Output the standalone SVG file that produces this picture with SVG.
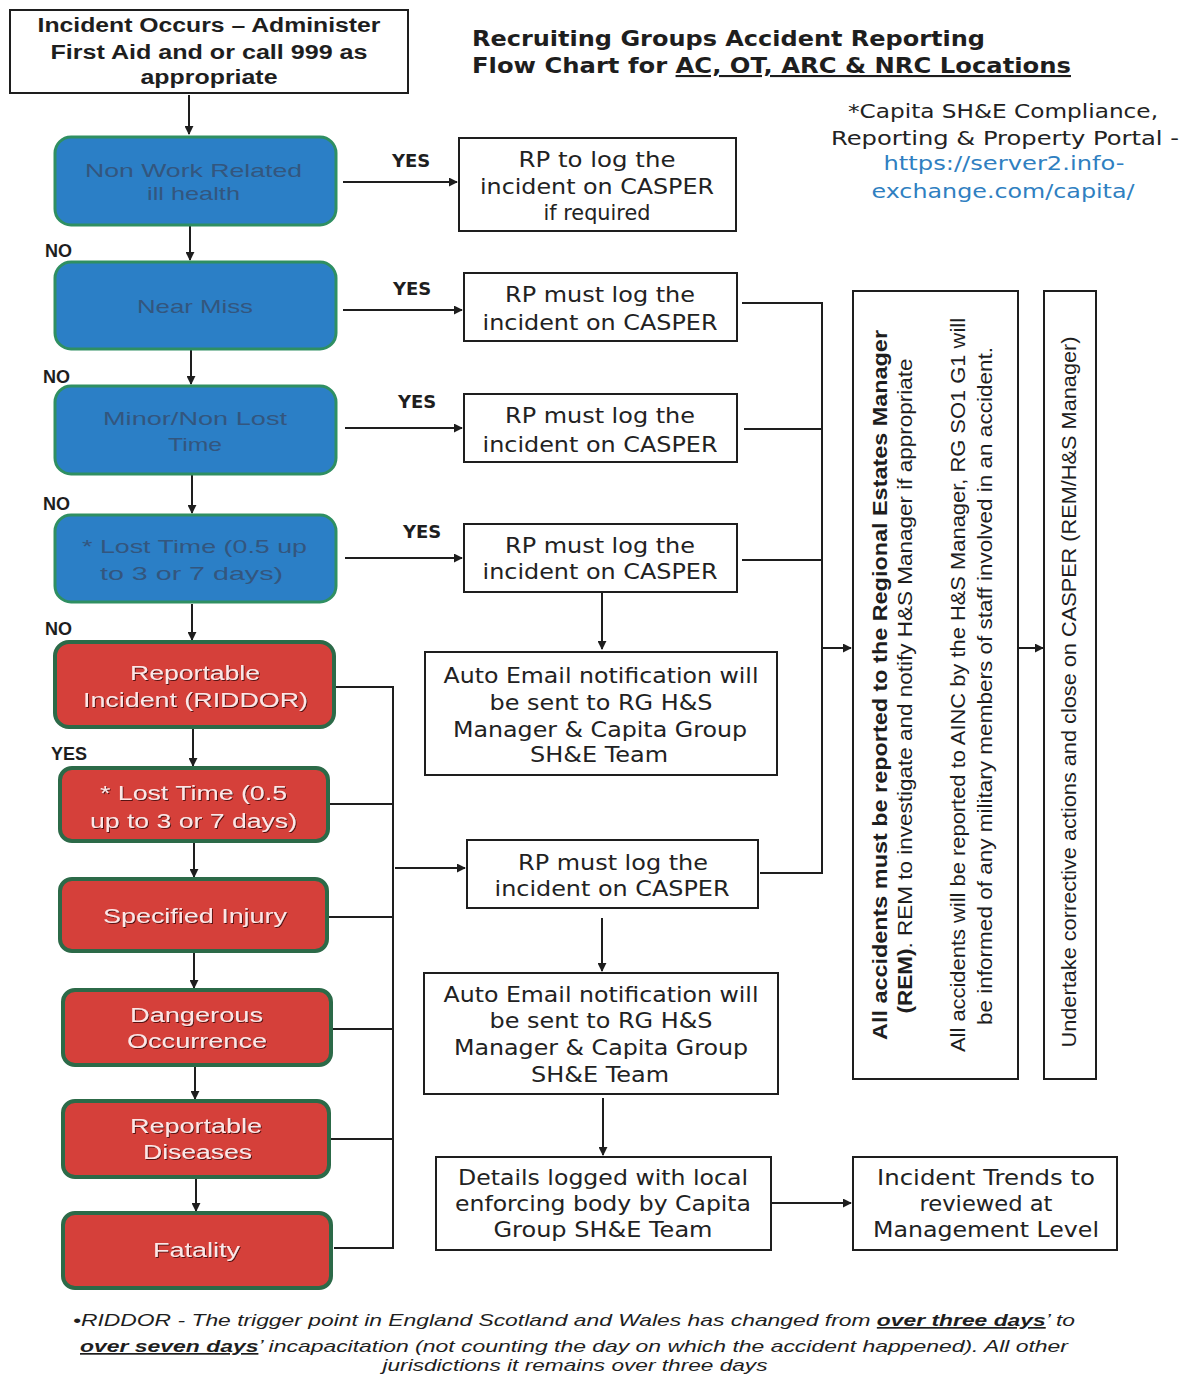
<svg xmlns="http://www.w3.org/2000/svg" width="1184" height="1375" viewBox="0 0 1184 1375">
<defs>
<marker id="ah" viewBox="0 0 10 10" refX="9" refY="5" markerWidth="9" markerHeight="9" markerUnits="userSpaceOnUse" orient="auto">
<path d="M0,0 L10,5 L0,10 z" fill="#1e1e1e"/>
</marker>
<filter id="sh" x="-10%" y="-30%" width="120%" height="160%">
<feDropShadow dx="1" dy="1" stdDeviation="0.6" flood-color="#4a0a0a" flood-opacity="0.9"/>
</filter>
</defs>
<style>
.box{fill:#ffffff;stroke:#1e1e1e;stroke-width:2}
.blue{fill:#2b7fc6;stroke:#2f8f62;stroke-width:3}
.red{fill:#d5403a;stroke:#2c6a48;stroke-width:4}
.bt{font-family:"Liberation Sans",Arial,sans-serif;font-size:19px;fill:#33567e;text-anchor:middle}
.rt{font-family:"Liberation Sans",Arial,sans-serif;font-size:20px;fill:#fde6e6;text-anchor:middle;filter:url(#sh)}
.tt{font-family:"Liberation Sans",Arial,sans-serif;font-size:20px;font-weight:bold;fill:#1e1e1e;text-anchor:middle}
.ct{font-family:"DejaVu Sans",Verdana,sans-serif;font-size:21px;fill:#222;text-anchor:middle}
.lab{font-family:"Liberation Sans",Arial,sans-serif;font-size:18px;font-weight:bold;fill:#1e1e1e}
.yes{font-family:"DejaVu Sans",Verdana,sans-serif;font-size:18px;font-weight:bold;fill:#1e1e1e}
.vt{font-family:"Liberation Sans Narrow","Liberation Sans",Arial,sans-serif;font-size:21px;fill:#1e1e1e;text-anchor:middle}
.title{font-family:"DejaVu Sans",Verdana,sans-serif;font-size:21px;font-weight:bold;fill:#1e1e1e}
.cap{font-family:"DejaVu Sans",Verdana,sans-serif;font-size:19px;fill:#222;text-anchor:middle}
.foot{font-family:"Liberation Sans",Arial,sans-serif;font-size:17px;font-style:italic;fill:#1e1e1e}
.ln{fill:none;stroke:#1e1e1e;stroke-width:2}
</style>
<rect width="1184" height="1375" fill="#ffffff"/>

<!-- title and notes -->
<g id="title">
<text class="title" x="472" y="46" textLength="513" lengthAdjust="spacingAndGlyphs">Recruiting Groups Accident Reporting</text>
<text class="title" x="472" y="73" textLength="599" lengthAdjust="spacingAndGlyphs">Flow Chart for <tspan text-decoration="underline">AC, OT, ARC &amp; NRC Locations</tspan></text>
</g>
<g id="portal-note">
<text class="cap" x="1003" y="118" textLength="310" lengthAdjust="spacingAndGlyphs">*Capita SH&amp;E Compliance,</text>
<text class="cap" x="1005" y="145" textLength="348" lengthAdjust="spacingAndGlyphs">Reporting &amp; Property Portal -</text>
<text class="cap" x="1004" y="170" textLength="241" lengthAdjust="spacingAndGlyphs" fill="#2f7fc1" style="fill:#2f7fc1">https://server2.info-</text>
<text class="cap" x="1003" y="198" textLength="263" lengthAdjust="spacingAndGlyphs" style="fill:#2f7fc1">exchange.com/capita/</text>
</g>

<!-- connectors -->
<g id="connectors">
<line class="ln" x1="189" y1="95" x2="189" y2="134" marker-end="url(#ah)"/>
<line class="ln" x1="190" y1="226" x2="190" y2="260" marker-end="url(#ah)"/>
<line class="ln" x1="191" y1="350" x2="191" y2="384" marker-end="url(#ah)"/>
<line class="ln" x1="192" y1="475" x2="192" y2="513" marker-end="url(#ah)"/>
<line class="ln" x1="192" y1="604" x2="192" y2="640" marker-end="url(#ah)"/>
<line class="ln" x1="193" y1="729" x2="193" y2="766" marker-end="url(#ah)"/>
<line class="ln" x1="194" y1="843" x2="194" y2="877" marker-end="url(#ah)"/>
<line class="ln" x1="194" y1="953" x2="194" y2="988" marker-end="url(#ah)"/>
<line class="ln" x1="195" y1="1067" x2="195" y2="1099" marker-end="url(#ah)"/>
<line class="ln" x1="196" y1="1179" x2="196" y2="1211" marker-end="url(#ah)"/>

<line class="ln" x1="343" y1="182" x2="457" y2="182" marker-end="url(#ah)"/>
<line class="ln" x1="343" y1="310" x2="462" y2="310" marker-end="url(#ah)"/>
<line class="ln" x1="345" y1="428" x2="462" y2="428" marker-end="url(#ah)"/>
<line class="ln" x1="345" y1="558" x2="462" y2="558" marker-end="url(#ah)"/>

<polyline class="ln" points="334,687 393,687 393,1248 334,1248"/>
<line class="ln" x1="330" y1="804" x2="393" y2="804"/>
<line class="ln" x1="328" y1="917" x2="393" y2="917"/>
<line class="ln" x1="332" y1="1029" x2="393" y2="1029"/>
<line class="ln" x1="328" y1="1139" x2="393" y2="1139"/>
<line class="ln" x1="395" y1="868" x2="465" y2="868" marker-end="url(#ah)"/>

<polyline class="ln" points="742,303 822,303 822,873 760,873"/>
<line class="ln" x1="744" y1="429" x2="822" y2="429"/>
<line class="ln" x1="742" y1="560" x2="822" y2="560"/>
<line class="ln" x1="822" y1="648" x2="851" y2="648" marker-end="url(#ah)"/>
<line class="ln" x1="1019" y1="648" x2="1043" y2="648" marker-end="url(#ah)"/>

<line class="ln" x1="602" y1="593" x2="602" y2="649" marker-end="url(#ah)"/>
<line class="ln" x1="602" y1="918" x2="602" y2="971" marker-end="url(#ah)"/>
<line class="ln" x1="603" y1="1098" x2="603" y2="1155" marker-end="url(#ah)"/>
<line class="ln" x1="771" y1="1203" x2="851" y2="1203" marker-end="url(#ah)"/>
</g>

<g id="labels">
<text class="lab" x="45" y="257">NO</text>
<text class="lab" x="43" y="383">NO</text>
<text class="lab" x="43" y="510">NO</text>
<text class="lab" x="45" y="635">NO</text>
<text class="lab" x="51" y="760">YES</text>
<text class="yes" x="392" y="167">YES</text>
<text class="yes" x="393" y="295">YES</text>
<text class="yes" x="398" y="408">YES</text>
<text class="yes" x="403" y="538">YES</text>
</g>

<!-- nodes -->
<g id="n-incident">
<rect class="box" x="10" y="10" width="398" height="83"/>
<text class="tt" x="209" y="32" textLength="343" lengthAdjust="spacingAndGlyphs">Incident Occurs – Administer</text>
<text class="tt" x="209" y="59" textLength="317" lengthAdjust="spacingAndGlyphs">First Aid and or call 999 as</text>
<text class="tt" x="209" y="84" textLength="137" lengthAdjust="spacingAndGlyphs">appropriate</text>
</g>
<g id="n-nonwork">
<rect class="blue" x="55" y="137" width="281" height="88" rx="16"/>
<text class="bt" x="193.5" y="177" textLength="217" lengthAdjust="spacingAndGlyphs">Non Work Related</text>
<text class="bt" x="193.5" y="200" textLength="93" lengthAdjust="spacingAndGlyphs">ill health</text>
</g>
<g id="n-nearmiss">
<rect class="blue" x="55" y="262" width="281" height="87" rx="16"/>
<text class="bt" x="195" y="313" textLength="116" lengthAdjust="spacingAndGlyphs">Near Miss</text>
</g>
<g id="n-minor">
<rect class="blue" x="55" y="386" width="281" height="88" rx="16"/>
<text class="bt" x="195" y="425" textLength="184" lengthAdjust="spacingAndGlyphs">Minor/Non Lost</text>
<text class="bt" x="195" y="451" textLength="54" lengthAdjust="spacingAndGlyphs">Time</text>
</g>
<g id="n-losttime">
<rect class="blue" x="55" y="515" width="281" height="87" rx="16"/>
<text class="bt" x="194.5" y="553" textLength="225" lengthAdjust="spacingAndGlyphs">* Lost Time (0.5 up</text>
<text class="bt" x="191.5" y="580" textLength="183" lengthAdjust="spacingAndGlyphs">to 3 or 7 days)</text>
</g>
<g id="n-riddor">
<rect class="red" x="55" y="642" width="279" height="85" rx="14"/>
<text class="rt" x="195" y="680" textLength="130" lengthAdjust="spacingAndGlyphs">Reportable</text>
<text class="rt" x="195.5" y="707" textLength="225" lengthAdjust="spacingAndGlyphs">Incident (RIDDOR)</text>
</g>
<g id="n-losttime-red">
<rect class="red" x="60" y="768" width="268" height="73" rx="12"/>
<text class="rt" x="193.5" y="800" textLength="187" lengthAdjust="spacingAndGlyphs">* Lost Time (0.5</text>
<text class="rt" x="193.5" y="828" textLength="207" lengthAdjust="spacingAndGlyphs">up to 3 or 7 days)</text>
</g>
<g id="n-specified">
<rect class="red" x="60" y="879" width="267" height="72" rx="12"/>
<text class="rt" x="195" y="923" textLength="184" lengthAdjust="spacingAndGlyphs">Specified Injury</text>
</g>
<g id="n-dangerous">
<rect class="red" x="63" y="990" width="268" height="75" rx="12"/>
<text class="rt" x="196.5" y="1022" textLength="133" lengthAdjust="spacingAndGlyphs">Dangerous</text>
<text class="rt" x="197" y="1048" textLength="140" lengthAdjust="spacingAndGlyphs">Occurrence</text>
</g>
<g id="n-diseases">
<rect class="red" x="63" y="1101" width="266" height="76" rx="12"/>
<text class="rt" x="196" y="1133" textLength="132" lengthAdjust="spacingAndGlyphs">Reportable</text>
<text class="rt" x="197.5" y="1159" textLength="109" lengthAdjust="spacingAndGlyphs">Diseases</text>
</g>
<g id="n-fatality">
<rect class="red" x="63" y="1213" width="268" height="75" rx="12"/>
<text class="rt" x="196.5" y="1257" textLength="87" lengthAdjust="spacingAndGlyphs">Fatality</text>
</g>

<g id="n-rp1">
<rect class="box" x="459" y="138" width="277" height="93"/>
<text class="ct" x="597" y="167" textLength="157" lengthAdjust="spacingAndGlyphs">RP to log the</text>
<text class="ct" x="597" y="194" textLength="234" lengthAdjust="spacingAndGlyphs">incident on CASPER</text>
<text class="ct" x="597" y="220" textLength="107" lengthAdjust="spacingAndGlyphs">if required</text>
</g>
<g id="n-rp2">
<rect class="box" x="464" y="273" width="273" height="68"/>
<text class="ct" x="600" y="302" textLength="190" lengthAdjust="spacingAndGlyphs">RP must log the</text>
<text class="ct" x="600" y="330" textLength="235" lengthAdjust="spacingAndGlyphs">incident on CASPER</text>
</g>
<g id="n-rp3">
<rect class="box" x="464" y="394" width="273" height="68"/>
<text class="ct" x="600" y="423" textLength="190" lengthAdjust="spacingAndGlyphs">RP must log the</text>
<text class="ct" x="600" y="452" textLength="235" lengthAdjust="spacingAndGlyphs">incident on CASPER</text>
</g>
<g id="n-rp4">
<rect class="box" x="464" y="524" width="273" height="68"/>
<text class="ct" x="600" y="553" textLength="190" lengthAdjust="spacingAndGlyphs">RP must log the</text>
<text class="ct" x="600" y="579" textLength="235" lengthAdjust="spacingAndGlyphs">incident on CASPER</text>
</g>
<g id="n-email1">
<rect class="box" x="425" y="652" width="352" height="123"/>
<text class="ct" x="601" y="683" textLength="315" lengthAdjust="spacingAndGlyphs">Auto Email notification will</text>
<text class="ct" x="601" y="710" textLength="223" lengthAdjust="spacingAndGlyphs">be sent to RG H&amp;S</text>
<text class="ct" x="600" y="737" textLength="294" lengthAdjust="spacingAndGlyphs">Manager &amp; Capita Group</text>
<text class="ct" x="599" y="762" textLength="138" lengthAdjust="spacingAndGlyphs">SH&amp;E Team</text>
</g>
<g id="n-rp5">
<rect class="box" x="467" y="840" width="291" height="68"/>
<text class="ct" x="613" y="870" textLength="190" lengthAdjust="spacingAndGlyphs">RP must log the</text>
<text class="ct" x="612" y="896" textLength="235" lengthAdjust="spacingAndGlyphs">incident on CASPER</text>
</g>
<g id="n-email2">
<rect class="box" x="424" y="973" width="354" height="121"/>
<text class="ct" x="601" y="1002" textLength="315" lengthAdjust="spacingAndGlyphs">Auto Email notification will</text>
<text class="ct" x="601" y="1028" textLength="223" lengthAdjust="spacingAndGlyphs">be sent to RG H&amp;S</text>
<text class="ct" x="601" y="1055" textLength="294" lengthAdjust="spacingAndGlyphs">Manager &amp; Capita Group</text>
<text class="ct" x="600" y="1082" textLength="138" lengthAdjust="spacingAndGlyphs">SH&amp;E Team</text>
</g>
<g id="n-details">
<rect class="box" x="436" y="1157" width="335" height="93"/>
<text class="ct" x="603" y="1185" textLength="290" lengthAdjust="spacingAndGlyphs">Details logged with local</text>
<text class="ct" x="603" y="1211" textLength="296" lengthAdjust="spacingAndGlyphs">enforcing body by Capita</text>
<text class="ct" x="603" y="1237" textLength="219" lengthAdjust="spacingAndGlyphs">Group SH&amp;E Team</text>
</g>
<g id="n-trends">
<rect class="box" x="853" y="1157" width="264" height="93"/>
<text class="ct" x="986" y="1185" textLength="218" lengthAdjust="spacingAndGlyphs">Incident Trends to</text>
<text class="ct" x="986" y="1211" textLength="133" lengthAdjust="spacingAndGlyphs">reviewed at</text>
<text class="ct" x="986" y="1237" textLength="226" lengthAdjust="spacingAndGlyphs">Management Level</text>
</g>
<g id="n-rem">
<rect class="box" x="853" y="291" width="165" height="788"/>
<text class="vt" transform="translate(887,685) rotate(-90)" textLength="710" lengthAdjust="spacingAndGlyphs" font-weight="bold">All accidents must be reported to the Regional Estates Manager</text>
<text class="vt" transform="translate(912,686) rotate(-90)" textLength="655" lengthAdjust="spacingAndGlyphs"><tspan font-weight="bold">(REM)</tspan>. REM to investigate and notify H&amp;S Manager if appropriate</text>
<text class="vt" transform="translate(965,685) rotate(-90)" textLength="734" lengthAdjust="spacingAndGlyphs">All accidents will be reported to AINC by the H&amp;S Manager, RG SO1 G1 will</text>
<text class="vt" transform="translate(992,686) rotate(-90)" textLength="678" lengthAdjust="spacingAndGlyphs">be informed of any military members of staff involved in an accident.</text>
</g>
<g id="n-undertake">
<rect class="box" x="1044" y="291" width="52" height="788"/>
<text class="vt" transform="translate(1076,692) rotate(-90)" textLength="711" lengthAdjust="spacingAndGlyphs">Undertake corrective actions and close on CASPER (REM/H&amp;S Manager)</text>
</g>

<g id="footnote">
<text class="foot" x="73" y="1326" textLength="1002" lengthAdjust="spacingAndGlyphs">•RIDDOR - The trigger point in England Scotland and Wales has changed from <tspan font-weight="bold" text-decoration="underline">over three days</tspan>’ to</text>
<text class="foot" x="80" y="1352" textLength="988" lengthAdjust="spacingAndGlyphs"><tspan font-weight="bold" text-decoration="underline">over seven days</tspan>’ incapacitation (not counting the day on which the accident happened). All other</text>
<text class="foot" x="575" y="1371" text-anchor="middle" textLength="385" lengthAdjust="spacingAndGlyphs">jurisdictions it remains over three days</text>
</g>
</svg>
